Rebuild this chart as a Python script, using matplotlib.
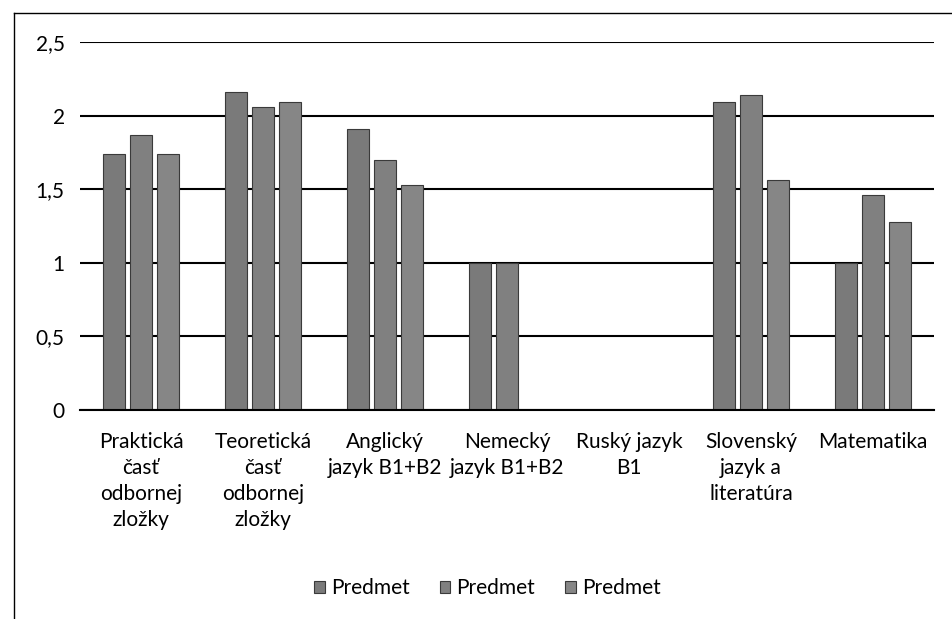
import matplotlib
matplotlib.use("Agg")
import matplotlib.pyplot as plt
from matplotlib.lines import Line2D
from matplotlib.ticker import FuncFormatter
import numpy as np

categories = ["Praktická\nčasť\nodbornej\nzložky", "Teoretická\nčasť\nodbornej\nzložky",
              "Anglický\njazyk B1+B2", "Nemecký\njazyk B1+B2", "Ruský jazyk\nB1",
              "Slovenský\njazyk a\nliteratúra", "Matematika"]
series_names = ["Predmet", "Predmet", "Predmet"]
s1 = [1.74, 2.16, 1.91, 1.00, 0.0, 2.09, 1.00]
s2 = [1.87, 2.06, 1.70, 1.00, 0.0, 2.14, 1.46]
s3 = [1.74, 2.09, 1.53, 0.0, 0.0, 1.56, 1.28]
yticks = [0, 0.5, 1, 1.5, 2, 2.5]

FONT = ['Lato', 'DejaVu Sans']
plt.rcParams['font.family'] = FONT

fig = plt.figure(figsize=(9.52, 6.19), dpi=100)
ax = fig.add_axes([0.084, 0.3376, 0.897, 0.5945])

x = np.arange(len(categories))
colors = ['#7a7a7a', '#808080', '#868686']
width = 0.18
step = 0.22
for i, (vals, c) in enumerate(zip([s1, s2, s3], colors)):
    ax.bar(x + (i - 1) * step, vals, width, color=c, edgecolor='#3a3a3a',
           linewidth=0.8, label=series_names[i], zorder=3)

ax.set_xlim(-0.5, len(categories) - 0.5)
ax.set_ylim(0, 2.5)
ax.set_yticks(yticks)
ax.yaxis.set_major_formatter(FuncFormatter(lambda v, p: ('%g' % v).replace('.', ',')))
ax.grid(axis='y', color='black', linewidth=1.5, zorder=1)
ax.set_axisbelow(True)
for s in ['top', 'right', 'left']:
    ax.spines[s].set_visible(False)
ax.spines['bottom'].set_color('black')
ax.spines['bottom'].set_linewidth(1.5)
ax.spines['bottom'].set_zorder(4)
ax.tick_params(axis='both', length=0, labelsize=15, colors='black')
ax.tick_params(axis='y', pad=11)
ax.tick_params(axis='x', pad=16)
ax.set_xticks(x)
ax.set_xticklabels(categories, linespacing=1.38)

leg = fig.legend(loc='center', bbox_to_anchor=(0.512, 0.05), ncol=3, frameon=False,
                 fontsize=15, handlelength=0.5, handleheight=0.5, handletextpad=0.3,
                 columnspacing=1.45)

# outer frame (scan border)
fig.add_artist(Line2D([14/952, 14/952], [0, 1 - 13/619], transform=fig.transFigure,
                      color='black', linewidth=1.0))
fig.add_artist(Line2D([14/952, 1], [1 - 13/619, 1 - 13/619], transform=fig.transFigure,
                      color='black', linewidth=1.0))

fig.savefig('out.png', dpi=100)
